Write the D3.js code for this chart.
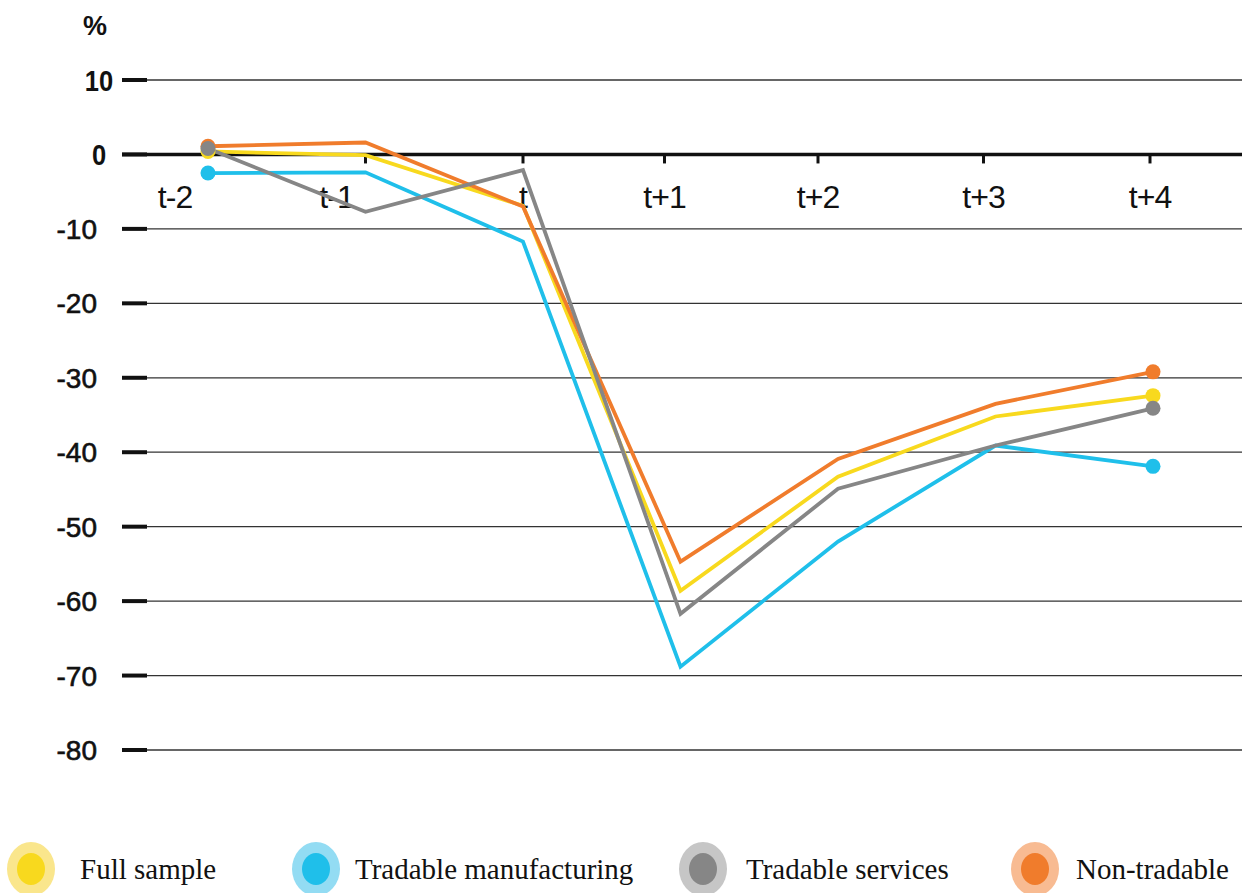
<!DOCTYPE html>
<html lang="en">
<head>
<meta charset="UTF-8">
<title>Chart</title>
<script src="https://cdn.jsdelivr.net/npm/d3@7"></script>
<style>
    body { margin: 0; background: #fff; }
    svg { display: block; }
</style>
</head>
<body>
<div class="chartBox"></div>
<script>
    // data
    const periods = ["t-2", "t-1", "t", "t+1", "t+2", "t+3", "t+4"];
    const fullSample = [0.4, -0.1, -6.9, -58.6, -43.3, -35.2, -32.4];
    const tradableManufacturing = [-2.5, -2.4, -11.7, -68.8, -52.0, -39.1, -41.9];
    const tradableServices = [0.8, -7.7, -2.1, -61.7, -44.9, -39.1, -34.1];
    const nonTradable = [1.1, 1.6, -7.0, -54.7, -40.9, -33.5, -29.2];
    const yTicks = [10, 0, -10, -20, -30, -40, -50, -60, -70, -80];
    // label nudges (px) so the period labels sit like in the original
    const labelNudge = [-33, -29, 0, -16, -20, -12, -3];

    const series = [
        { name: "Tradable manufacturing", values: tradableManufacturing, color: "#1fbfea", halo: "#93dcf3" },
        { name: "Full sample", values: fullSample, color: "#f8d91e", halo: "#fae68c" },
        { name: "Non-tradable", values: nonTradable, color: "#f07c2c", halo: "#f8bb92" },
        { name: "Tradable services", values: tradableServices, color: "#868686", halo: "#c6c6c6" }
    ];
    const legendOrder = ["Full sample", "Tradable manufacturing", "Tradable services", "Non-tradable"];

    const width = 1242, height = 893;
    const svg = d3.select(".chartBox").append("svg").attr("width", width).attr("height", height);

    const x = d3.scalePoint().domain(periods).range([208, 1153]);
    const y = d3.scaleLinear().domain([10, -80]).range([80, 750]);

    // grid + tick marks
    const grid = svg.append("g");
    grid.selectAll("line.grid")
        .data(yTicks)
        .join("line")
        .attr("x1", d => d === 0 ? 122 : 147)
        .attr("x2", width)
        .attr("y1", d => y(d)).attr("y2", d => y(d))
        .attr("stroke", d => d === 0 ? "#111" : "#333")
        .attr("stroke-width", d => d === 0 ? 3.5 : 1.3);
    grid.selectAll("line.tick")
        .data(yTicks)
        .join("line")
        .attr("x1", 122).attr("x2", 147)
        .attr("y1", d => y(d)).attr("y2", d => y(d))
        .attr("stroke", "#111")
        .attr("stroke-width", 4);

    // y labels: the positive ones are set bold and narrow, the negative ones plain
    grid.selectAll("text")
        .data(yTicks)
        .join("text")
        .attr("transform", d => d < 0
            ? `translate(97,${y(d) + 10})`
            : `translate(99,${y(d) + 11}) scale(0.85,1)`)
        .attr("text-anchor", d => d < 0 ? "end" : "middle")
        .style("font-family", "'Liberation Sans', Arial, sans-serif")
        .style("font-size", d => d < 0 ? "28px" : "30px")
        .style("font-weight", d => d < 0 ? "normal" : "bold")
        .style("fill", "#111")
        .style("stroke", "#111")
        .style("stroke-width", d => d < 0 ? 0.6 : 0)
        .text(d => d);

    svg.append("text")
        .attr("x", 95).attr("y", 35)
        .attr("text-anchor", "middle")
        .style("font-family", "'Liberation Sans', Arial, sans-serif")
        .style("font-size", "27px")
        .style("font-weight", "bold")
        .style("fill", "#111")
        .text("%");

    // small ticks on the zero line + period labels
    const xAxis = svg.append("g");
    xAxis.selectAll("line")
        .data(periods.slice(1))
        .join("line")
        .attr("x1", d => x(d) + labelNudge[periods.indexOf(d)] * (periods.indexOf(d) < 2 ? 0 : 1))
        .attr("x2", d => x(d) + labelNudge[periods.indexOf(d)] * (periods.indexOf(d) < 2 ? 0 : 1))
        .attr("y1", y(0)).attr("y2", y(0) + 9)
        .attr("stroke", "#111")
        .attr("stroke-width", 3);
    xAxis.selectAll("text")
        .data(periods)
        .join("text")
        .attr("x", (d, i) => x(d) + labelNudge[i])
        .attr("y", 208)
        .attr("text-anchor", "middle")
        .style("font-family", "'Liberation Sans', Arial, sans-serif")
        .style("font-size", "32px")
        .style("letter-spacing", "-1px")
        .style("fill", "#111")
        .text(d => d);

    // lines
    const line = d3.line().x((d, i) => x(periods[i])).y(d => y(d));
    svg.append("g")
        .selectAll("path")
        .data(series)
        .join("path")
        .attr("d", d => line(d.values))
        .attr("fill", "none")
        .attr("stroke", d => d.color)
        .attr("stroke-width", 3.8)
        .attr("stroke-linejoin", "miter");

    // end dots
    const dots = svg.append("g");
    series.forEach(s => {
        [0, periods.length - 1].forEach(i => {
            dots.append("circle")
                .attr("cx", x(periods[i]))
                .attr("cy", y(s.values[i]))
                .attr("r", 7.5)
                .attr("fill", s.color);
        });
    });

    // legend
    const legendX = [31, 316, 703, 1035];
    const legendTextX = [80, 355, 746, 1076];
    const legend = svg.append("g");
    legendOrder.forEach((name, i) => {
        const s = series.find(d => d.name === name);
        const g = legend.append("g").attr("transform", `translate(${legendX[i]},869)`);
        g.append("ellipse").attr("rx", 24).attr("ry", 27).attr("fill", s.halo);
        g.append("ellipse").attr("rx", 14).attr("ry", 16).attr("fill", s.color);
        g.append("text")
            .attr("x", legendTextX[i] - legendX[i])
            .attr("y", 10)
            .style("font-family", "'Liberation Serif', 'Times New Roman', serif")
            .style("font-size", "29px")
            .style("fill", "#111")
            .text(name);
    });
</script>
</body>
</html>
